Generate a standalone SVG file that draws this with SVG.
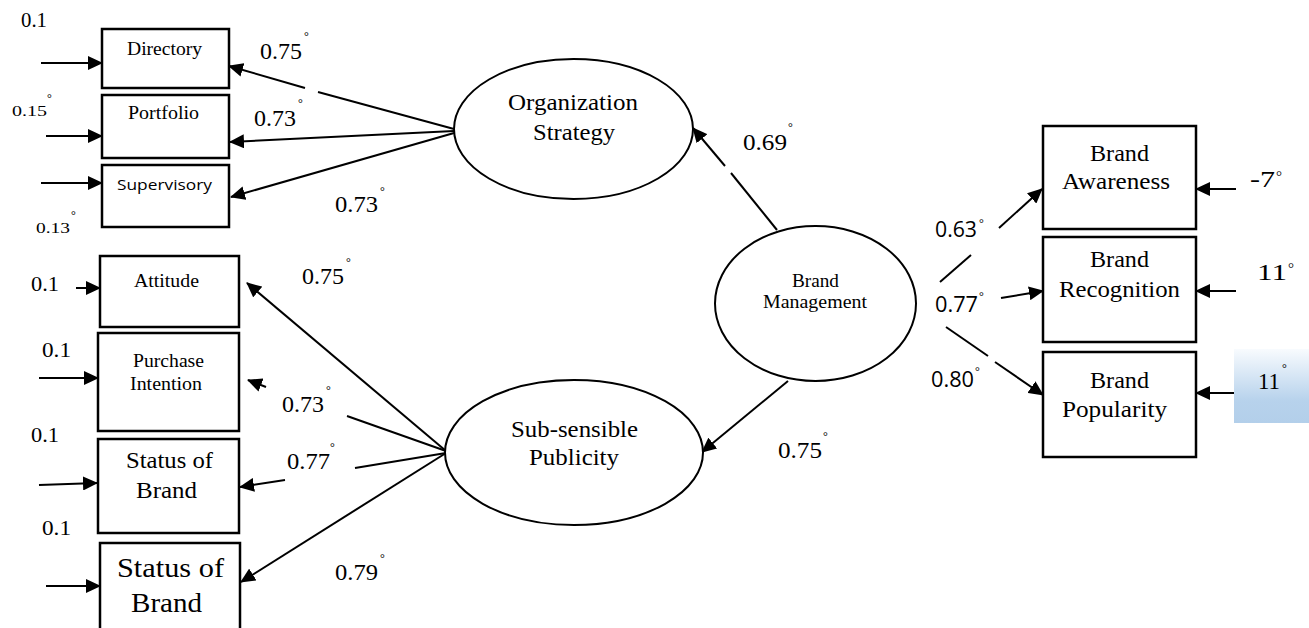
<svg xmlns="http://www.w3.org/2000/svg" width="1309" height="628" viewBox="0 0 1309 628">
<style>
.box{fill:#fff;stroke:#000;stroke-width:2.5}
.ell{fill:#fff;stroke:#000;stroke-width:2}
.ln{stroke:#000;stroke-width:2;fill:none}
.ar{stroke:#000;stroke-width:2;fill:none;marker-end:url(#ah)}
.s{font-family:"Liberation Serif","Times New Roman",serif;fill:#000}
.ss{font-family:"Open Sans","Liberation Sans",sans-serif;fill:#000}
.deg{font-family:"Liberation Serif",serif;font-size:12px;fill:#000}
</style>
<defs>
<marker id="ah" markerUnits="userSpaceOnUse" markerWidth="15" markerHeight="14" viewBox="0 0 15 14" refX="14" refY="7" orient="auto">
<path d="M0,0 L15,7 L0,14 z" fill="#000"/>
</marker>
<linearGradient id="blue" x1="0" y1="0" x2="0" y2="1">
<stop offset="0" stop-color="#f8fbfe"/>
<stop offset="0.7" stop-color="#b7d2ec"/>
<stop offset="1" stop-color="#b3cfea"/>
</linearGradient>
</defs>
<rect width="1309" height="628" fill="#fff"/>

<g id="connectors">
<line class="ln" x1="454" y1="129" x2="318" y2="92"/>
<line class="ar" x1="305" y1="88" x2="229" y2="66"/>
<line class="ar" x1="454" y1="131" x2="230" y2="142"/>
<line class="ar" x1="454" y1="133" x2="231" y2="197"/>
<line class="ar" x1="446" y1="451" x2="247" y2="283"/>
<line class="ln" x1="446" y1="451" x2="347" y2="416"/>
<line class="ar" x1="266" y1="387" x2="248" y2="380"/>
<line class="ln" x1="446" y1="453" x2="355" y2="468"/>
<line class="ar" x1="285" y1="480" x2="240" y2="487"/>
<line class="ar" x1="446" y1="453" x2="241" y2="582"/>
<line class="ln" x1="777" y1="230" x2="731" y2="173"/>
<line class="ar" x1="725" y1="166" x2="693" y2="128"/>
<line class="ar" x1="788" y1="381" x2="702" y2="452"/>
<line class="ln" x1="940" y1="282" x2="971" y2="255"/>
<line class="ar" x1="999" y1="228" x2="1042" y2="189"/>
<line class="ar" x1="1001" y1="298" x2="1043" y2="291"/>
<line class="ln" x1="946" y1="327" x2="988" y2="356"/>
<line class="ar" x1="995" y1="362" x2="1043" y2="395"/>
<line class="ar" x1="41" y1="63" x2="102" y2="63"/>
<line class="ar" x1="46" y1="136" x2="102" y2="136"/>
<line class="ar" x1="41" y1="183" x2="102" y2="183"/>
<line class="ar" x1="76" y1="288" x2="100" y2="288"/>
<line class="ar" x1="39" y1="378" x2="98" y2="378"/>
<line class="ar" x1="39" y1="485" x2="97" y2="483"/>
<line class="ar" x1="46" y1="586" x2="100" y2="586"/>
<line class="ar" x1="1236" y1="189" x2="1196" y2="189"/>
<line class="ar" x1="1236" y1="291" x2="1196" y2="291"/>
<line class="ar" x1="1234" y1="393" x2="1196" y2="393"/>
</g>

<g id="directory">
<rect class="box" x="102" y="29" width="127" height="59"/>
<text class="s" x="127" y="55" font-size="18" textLength="75" lengthAdjust="spacingAndGlyphs">Directory</text>
</g>
<g id="portfolio">
<rect class="box" x="102" y="95" width="127" height="63"/>
<text class="s" x="128" y="119" font-size="18" textLength="71" lengthAdjust="spacingAndGlyphs">Portfolio</text>
</g>
<g id="supervisory">
<rect class="box" x="102" y="165" width="127" height="62"/>
<text class="ss" x="117" y="190" font-size="15" textLength="95" lengthAdjust="spacingAndGlyphs">Supervisory</text>
</g>
<g id="attitude">
<rect class="box" x="100" y="256" width="139" height="71"/>
<text class="s" x="134" y="287" font-size="18" textLength="65" lengthAdjust="spacingAndGlyphs">Attitude</text>
</g>
<g id="purchase">
<rect class="box" x="98" y="333" width="141" height="98"/>
<text class="s" x="133" y="367" font-size="18" textLength="71" lengthAdjust="spacingAndGlyphs">Purchase</text>
<text class="s" x="130" y="390" font-size="18" textLength="72" lengthAdjust="spacingAndGlyphs">Intention</text>
</g>
<g id="status1">
<rect class="box" x="98" y="439" width="141" height="94"/>
<text class="s" x="126" y="468" font-size="24" textLength="87" lengthAdjust="spacingAndGlyphs">Status of</text>
<text class="s" x="136" y="498" font-size="24" textLength="61" lengthAdjust="spacingAndGlyphs">Brand</text>
</g>
<g id="status2">
<rect class="box" x="100" y="543" width="140" height="100"/>
<text class="s" x="117" y="577" font-size="28" textLength="107" lengthAdjust="spacingAndGlyphs">Status of</text>
<text class="s" x="131" y="612" font-size="28" textLength="71" lengthAdjust="spacingAndGlyphs">Brand</text>
</g>

<g id="org">
<ellipse class="ell" cx="573.5" cy="129" rx="119.5" ry="70"/>
<text class="s" x="508" y="110" font-size="24" textLength="130" lengthAdjust="spacingAndGlyphs">Organization</text>
<text class="s" x="533" y="140" font-size="24" textLength="82" lengthAdjust="spacingAndGlyphs">Strategy</text>
</g>
<g id="sub">
<ellipse class="ell" cx="574" cy="452.5" rx="129" ry="72.5"/>
<text class="s" x="511" y="437" font-size="24" textLength="127" lengthAdjust="spacingAndGlyphs">Sub-sensible</text>
<text class="s" x="529" y="465" font-size="24" textLength="90" lengthAdjust="spacingAndGlyphs">Publicity</text>
</g>
<g id="bm">
<ellipse class="ell" cx="815.5" cy="303.5" rx="100.5" ry="77.5"/>
<text class="s" x="792" y="287" font-size="18" textLength="47" lengthAdjust="spacingAndGlyphs">Brand</text>
<text class="s" x="763" y="308" font-size="18" textLength="104" lengthAdjust="spacingAndGlyphs">Management</text>
</g>

<g id="awareness">
<rect class="box" x="1043" y="126" width="153" height="103"/>
<text class="s" x="1090" y="161" font-size="24" textLength="59" lengthAdjust="spacingAndGlyphs">Brand</text>
<text class="s" x="1062" y="189" font-size="24" textLength="108" lengthAdjust="spacingAndGlyphs">Awareness</text>
</g>
<g id="recognition">
<rect class="box" x="1043" y="237" width="153" height="105"/>
<text class="s" x="1090" y="267" font-size="24" textLength="59" lengthAdjust="spacingAndGlyphs">Brand</text>
<text class="s" x="1059" y="297" font-size="24" textLength="121" lengthAdjust="spacingAndGlyphs">Recognition</text>
</g>
<g id="popularity">
<rect class="box" x="1043" y="352" width="153" height="105"/>
<text class="s" x="1090" y="388" font-size="24" textLength="59" lengthAdjust="spacingAndGlyphs">Brand</text>
<text class="s" x="1062" y="417" font-size="24" textLength="105" lengthAdjust="spacingAndGlyphs">Popularity</text>
</g>
<g id="err-pop">
<rect x="1234" y="349" width="75" height="74" fill="url(#blue)"/>
<text class="s" x="1258" y="389" font-size="24" textLength="22" lengthAdjust="spacingAndGlyphs">11</text>
<text class="deg" x="1282" y="372">°</text>
</g>

<g id="labels">
<text class="s" x="21" y="27" font-size="20" textLength="26" lengthAdjust="spacingAndGlyphs">0.1</text>
<text class="s" x="12" y="116" font-size="15" textLength="35" lengthAdjust="spacingAndGlyphs">0.15</text>
<text class="deg" x="47" y="102">°</text>
<text class="s" x="36" y="233" font-size="15" textLength="34" lengthAdjust="spacingAndGlyphs">0.13</text>
<text class="deg" x="71" y="219">°</text>
<text class="s" x="31" y="291" font-size="21" textLength="28" lengthAdjust="spacingAndGlyphs">0.1</text>
<text class="s" x="42" y="357" font-size="21" textLength="29" lengthAdjust="spacingAndGlyphs">0.1</text>
<text class="s" x="31" y="442" font-size="21" textLength="28" lengthAdjust="spacingAndGlyphs">0.1</text>
<text class="s" x="42" y="535" font-size="21" textLength="29" lengthAdjust="spacingAndGlyphs">0.1</text>

<text class="s" x="260" y="59" font-size="24" textLength="42" lengthAdjust="spacingAndGlyphs">0.75</text>
<text class="deg" x="304" y="40">°</text>
<text class="s" x="254" y="126" font-size="24" textLength="42" lengthAdjust="spacingAndGlyphs">0.73</text>
<text class="deg" x="298" y="107">°</text>
<text class="s" x="335" y="212" font-size="24" textLength="43" lengthAdjust="spacingAndGlyphs">0.73</text>
<text class="deg" x="380" y="195">°</text>
<text class="s" x="302" y="284" font-size="24" textLength="42" lengthAdjust="spacingAndGlyphs">0.75</text>
<text class="deg" x="346" y="266">°</text>
<text class="s" x="282" y="412" font-size="24" textLength="42" lengthAdjust="spacingAndGlyphs">0.73</text>
<text class="deg" x="326" y="394">°</text>
<text class="s" x="287" y="469" font-size="24" textLength="43" lengthAdjust="spacingAndGlyphs">0.77</text>
<text class="deg" x="330" y="451">°</text>
<text class="s" x="335" y="580" font-size="24" textLength="43" lengthAdjust="spacingAndGlyphs">0.79</text>
<text class="deg" x="380" y="562">°</text>
<text class="s" x="743" y="150" font-size="24" textLength="44" lengthAdjust="spacingAndGlyphs">0.69</text>
<text class="deg" x="788" y="131">°</text>
<text class="s" x="778" y="458" font-size="24" textLength="44" lengthAdjust="spacingAndGlyphs">0.75</text>
<text class="deg" x="823" y="440">°</text>

<text class="ss" x="935" y="237" font-size="22" textLength="42" lengthAdjust="spacingAndGlyphs">0.63</text>
<text class="deg" x="979" y="227">°</text>
<text class="ss" x="935" y="312" font-size="22" textLength="43" lengthAdjust="spacingAndGlyphs">0.77</text>
<text class="deg" x="979" y="300">°</text>
<text class="ss" x="931" y="387" font-size="22" textLength="43" lengthAdjust="spacingAndGlyphs">0.80</text>
<text class="deg" x="975" y="375">°</text>

<text class="s" x="1250" y="187" font-size="24" textLength="25" lengthAdjust="spacingAndGlyphs">-7</text>
<text class="s" x="1276" y="181" font-size="15">°</text>
<text class="s" x="1257" y="280" font-size="24" textLength="30" lengthAdjust="spacingAndGlyphs">11</text>
<text class="s" x="1288" y="273" font-size="15">°</text>
</g>
</svg>
